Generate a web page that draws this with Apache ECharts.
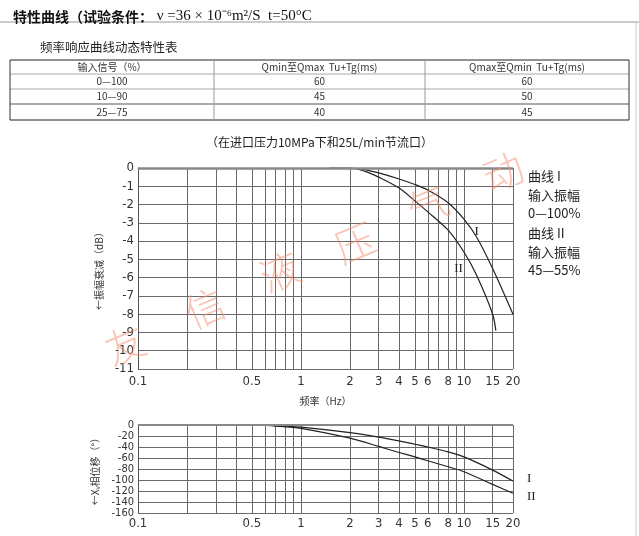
<!DOCTYPE html>
<html><head><meta charset="utf-8">
<script src="https://cdn.jsdelivr.net/npm/echarts@6/dist/echarts.min.js"></script>
<style>html,body{margin:0;padding:0;background:#fff}#c{width:639px;height:536px}</style>
</head><body><div id="c"></div>
<script>
// ---------- data ----------
const tableHeader = ['输入信号（%）', 'Qmin至Qmax  Tu+Tg(ms)', 'Qmax至Qmin  Tu+Tg(ms)'];
const tableSignal = ['0—100', '10—90', '25—75'];
const tableUp = [60, 45, 40];
const tableDown = [60, 50, 45];

const freqGrid = [0.1,0.2,0.3,0.4,0.5,0.6,0.7,0.8,0.9,1,2,3,4,5,6,7,8,9,10,15,20];
const freqLabels = [0.1,0.5,1,2,3,4,5,6,8,10,15,20];

const ampCurve1 = [[1.5,0],[2,0],[2.5,-0.1],[3,-0.27],[4,-0.6],[5,-0.9],[6,-1.2],[8,-1.9],[10,-2.8],[12,-3.8],[15,-5.5],[20,-8.0]];
const ampCurve2 = [[1.5,0],[2,0],[2.5,-0.2],[3,-0.5],[4,-1.1],[5,-1.8],[6,-2.4],[8,-3.4],[10,-4.6],[12,-5.9],[15,-8.0],[15.7,-8.9]];
const phaseCurve1 = [[0.5,0],[0.7,-1],[1,-4],[2,-14],[3,-22],[4,-29],[5,-35],[6,-40],[8,-49],[10,-58],[15,-82],[20,-102]];
const phaseCurve2 = [[0.5,0],[0.7,-2],[1,-6],[2,-24],[3,-39],[4,-50],[5,-58],[6,-65],[8,-76],[10,-85],[15,-108],[20,-124]];

const legendLines = ['曲线 I', '输入振幅', '0—100%', '曲线 II', '输入振幅', '45—55%'];
const watermarkChars = ['友', '信', '液', '压', '气', '动'];

// ---------- chart ----------
const chart = echarts.init(document.getElementById('c'), null, {renderer: 'canvas'});
const narrow = '"Liberation Sans Narrow", "DejaVu Sans Condensed", sans-serif';
const cjk = '"Noto Sans CJK SC", sans-serif';
const serif = '"Liberation Serif", serif';
const gridColor = '#6a6a6a';

function fmtFreq(v) { return String(+(+v).toPrecision(3)); }

function xAxisDef(gi, showName) {
  return {
    type: 'log', logBase: 10, gridIndex: gi, min: 0.1, max: 20,
    axisLine: {show: true, lineStyle: {color: '#888', width: 1}},
    axisTick: {show: false, customValues: freqGrid},
    axisLabel: {customValues: freqLabels, formatter: fmtFreq, color: '#333',
      fontFamily: narrow, fontSize: 13, margin: gi === 0 ? 6 : 4},
    splitLine: {show: true, lineStyle: {color: gridColor, width: 1}},
    minorSplitLine: {show: false},
    name: showName ? '频率（Hz）' : '', nameLocation: 'middle', nameGap: 27,
    nameTextStyle: {fontFamily: cjk, fontSize: 10, color: '#333'}
  };
}

// table graphics
const tableG = [];
const tX0 = 10, tX1 = 629, colX = [10, 214, 425, 629];
const rowY = [60, 74, 89, 104, 120];
tableG.push({type: 'line', shape: {x1: tX0, y1: rowY[0], x2: tX1, y2: rowY[0]}, style: {stroke: '#222', lineWidth: 1}});
tableG.push({type: 'line', shape: {x1: tX0, y1: rowY[4], x2: tX1, y2: rowY[4]}, style: {stroke: '#222', lineWidth: 1}});
for (let i = 1; i < 4; i++) {
  tableG.push({type: 'line', shape: {x1: tX0, y1: rowY[i], x2: tX1, y2: rowY[i]}, style: {stroke: '#aaa', lineWidth: i === 3 ? 2 : 1}});
}
colX.forEach((x, i) => {
  tableG.push({type: 'line', shape: {x1: x, y1: rowY[0], x2: x, y2: rowY[4]}, style: {stroke: (i === 0 || i === 3) ? '#333' : '#999', lineWidth: 1}});
});
const rowsText = [tableHeader, ...tableSignal.map((s, i) => [s, String(tableUp[i]), String(tableDown[i])])];
rowsText.forEach((row, r) => {
  row.forEach((t, c) => {
    tableG.push({type: 'text', x: (colX[c] + colX[c + 1]) / 2, y: (rowY[r] + rowY[r + 1]) / 2,
      style: {text: t, fill: '#333', font: '10px ' + cjk, align: 'center', verticalAlign: 'middle'}});
  });
});

// watermark
const wmPos = [[125,345],[205,308],[280,272],[355,243],[428,205],[503,172]];
const wmG = watermarkChars.map((ch, i) => ({
  type: 'text', x: wmPos[i][0], y: wmPos[i][1], rotation: 0.4, z: 100, silent: true,
  style: {text: ch, fill: 'rgba(243,140,110,0.5)', font: '300 40px ' + cjk, align: 'center', verticalAlign: 'middle'}
}));

const legendY = [176, 195, 213, 233, 252, 270];
const legendG = legendLines.map((t, i) => ({
  type: 'text', x: 528, y: legendY[i],
  style: {text: t, fill: '#222', font: '13px ' + cjk, align: 'left', verticalAlign: 'middle'}
}));

const curveLine = {color: '#222', width: 1.2};

const option = {
  backgroundColor: '#fff',
  animation: false,
  title: [
    {text: '特性曲线（试验条件：{s| ν =36 × 10⁻⁶m²/S  t=50°C}', left: 8, top: 4,
      textStyle: {fontSize: 14, fontWeight: 'bold', color: '#111', fontFamily: cjk,
        rich: {s: {fontSize: 15, fontWeight: 'normal', fontFamily: serif, color: '#111'}}}},
    {text: '频率响应曲线动态特性表', left: 35, top: 36, textStyle: {fontSize: 12.5, fontWeight: 'normal', color: '#222', fontFamily: cjk}},
    {text: '（在进口压力10MPa下和25L/min节流口）', left: 'center', top: 131, textStyle: {fontSize: 12, fontWeight: 'normal', color: '#222', fontFamily: cjk}}
  ],
  grid: [
    {left: 138, top: 168, width: 375, height: 201},
    {left: 138, top: 425, width: 375, height: 88}
  ],
  xAxis: [xAxisDef(0, true), xAxisDef(1, false)],
  yAxis: [
    {type: 'value', gridIndex: 0, min: -11, max: 0, interval: 1,
      axisLine: {show: true, lineStyle: {color: '#555'}}, axisTick: {show: false},
      axisLabel: {color: '#333', fontFamily: narrow, fontSize: 13, margin: 4, showMinLabel: true, showMaxLabel: true},
      splitLine: {lineStyle: {color: gridColor}},
      name: '←振幅衰减（dB）', nameLocation: 'middle', nameRotate: 90, nameGap: 33,
      nameTextStyle: {fontFamily: cjk, fontSize: 10, color: '#333'}},
    {type: 'value', gridIndex: 1, min: -160, max: 0, interval: 20,
      axisLine: {show: true, lineStyle: {color: '#555'}}, axisTick: {show: false},
      axisLabel: {color: '#333', fontFamily: narrow, fontSize: 11, margin: 4, lineHeight: 11,
        showMinLabel: true, showMaxLabel: true, hideOverlap: false},
      splitLine: {lineStyle: {color: gridColor}},
      name: '←Xᵥ相位移（°）', nameLocation: 'middle', nameRotate: 90, nameGap: 33,
      nameTextStyle: {fontFamily: cjk, fontSize: 10, color: '#333'}}
  ],
  series: [
    {type: 'line', xAxisIndex: 0, yAxisIndex: 0, data: ampCurve1, smooth: 0.3, showSymbol: false,
      lineStyle: curveLine,
      markLine: {silent: true, symbol: 'none', label: {show: false}, lineStyle: {color: '#888', width: 2.5, type: 'solid'}, data: [{yAxis: 0}]},
      markPoint: {symbol: 'circle', symbolSize: 0, data: [{coord: [11, -3.5]}],
        label: {show: true, formatter: 'I', offset: [6, 0], color: '#222', fontFamily: serif, fontSize: 13}}},
    {type: 'line', xAxisIndex: 0, yAxisIndex: 0, data: ampCurve2, smooth: 0.3, showSymbol: false,
      lineStyle: curveLine,
      markPoint: {symbol: 'circle', symbolSize: 0, data: [{coord: [11.3, -5.5]}],
        label: {show: true, formatter: 'II', offset: [-14, 0], color: '#222', fontFamily: serif, fontSize: 13}}},
    {type: 'line', xAxisIndex: 1, yAxisIndex: 1, data: phaseCurve1, smooth: 0.3, showSymbol: false,
      lineStyle: curveLine,
      markLine: {silent: true, symbol: 'none', label: {show: false}, lineStyle: {color: '#888', width: 2, type: 'solid'}, data: [{yAxis: 0}]},
      endLabel: {show: true, formatter: 'I', offset: [6, -3], color: '#222', fontFamily: serif, fontSize: 13}},
    {type: 'line', xAxisIndex: 1, yAxisIndex: 1, data: phaseCurve2, smooth: 0.3, showSymbol: false,
      lineStyle: curveLine,
      endLabel: {show: true, formatter: 'II', offset: [6, 3], color: '#222', fontFamily: serif, fontSize: 13}}
  ],
  graphic: [
    {type: 'line', shape: {x1: 0, y1: 22, x2: 639, y2: 22}, style: {stroke: '#999', lineWidth: 1}},
    {type: 'line', shape: {x1: 636, y1: 22, x2: 636, y2: 536}, style: {stroke: '#ccc', lineWidth: 1}},
    ...tableG, ...legendG, ...wmG
  ]
};
chart.setOption(option);
</script>
</body></html>
